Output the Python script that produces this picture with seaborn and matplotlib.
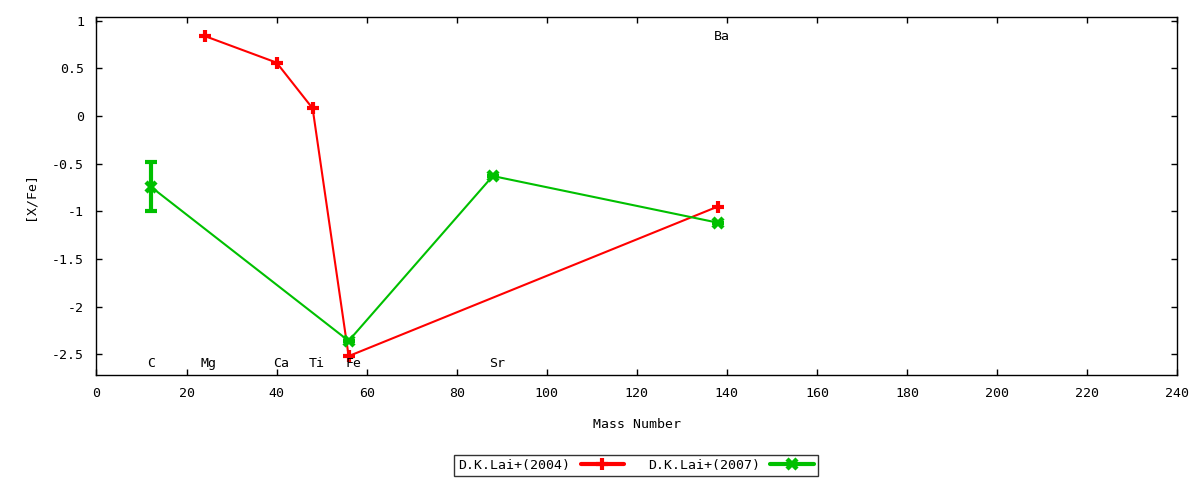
import matplotlib
matplotlib.use("Agg")
import matplotlib.pyplot as plt
import seaborn as sns
import pandas as pd
from matplotlib.lines import Line2D

# D.K.Lai+(2004)
mass_2004 = [24, 40, 48, 56, 138]
xfe_2004 = [0.84, 0.56, 0.08, -2.52, -0.95]

# D.K.Lai+(2007)
mass_2007 = [12, 56, 88, 138]
xfe_2007 = [-0.74, -2.36, -0.63, -1.12]
err_2007 = [0.26, 0.0, 0.0, 0.0]

# element labels
elements = ["C", "Mg", "Ca", "Ti", "Fe", "Sr", "Ba"]
element_mass = [12, 24, 40, 48, 56, 88, 138]
element_y = [-2.6, -2.6, -2.6, -2.6, -2.6, -2.6, 0.83]

xticks = list(range(0, 241, 20))
yticks = [1, 0.5, 0, -0.5, -1, -1.5, -2, -2.5]
ytick_labels = ["1", "0.5", "0", "-0.5", "-1", "-1.5", "-2", "-2.5"]

sns.set_style("ticks")
plt.rcParams["font.family"] = ["DejaVu Sans Mono", "DejaVu Sans"]
plt.rcParams["font.size"] = 9.5
plt.rcParams["axes.unicode_minus"] = False
plt.rcParams["text.color"] = "black"
plt.rcParams["axes.labelcolor"] = "black"

red = "#ff0000"
green = "#00c000"

fig = plt.figure(figsize=(12, 4.8), dpi=100)
ax = fig.add_axes([0.0804, 0.219, 0.981 - 0.0804, 0.964 - 0.219])

df04 = pd.DataFrame({"mass": mass_2004, "xfe": xfe_2004})
df07 = pd.DataFrame({"mass": mass_2007, "xfe": xfe_2007, "err": err_2007})

sns.lineplot(data=df04, x="mass", y="xfe", ax=ax, color=red, lw=1.5,
             marker="+", markersize=8, markeredgewidth=3,
             markeredgecolor=red, sort=False, legend=False)
sns.lineplot(data=df07, x="mass", y="xfe", ax=ax, color=green, lw=1.5,
             marker="x", markersize=7, markeredgewidth=3.2,
             markeredgecolor=green, sort=False, legend=False)
ax.errorbar(df07["mass"], df07["xfe"], yerr=df07["err"], fmt="none",
            ecolor=green, elinewidth=3, capsize=4, capthick=3)

for name, m, yy in zip(elements, element_mass, element_y):
    ax.text(m - 0.8, yy, name, ha="left", va="center", fontsize=9.5,
            color="black")

ax.set_xlim(0, 240)
ax.set_ylim(-2.717, 1.036)
ax.set_xticks(xticks)
ax.set_yticks(yticks)
ax.set_yticklabels(ytick_labels)
ax.tick_params(direction="in", length=4, width=1, top=True, right=True,
               pad=9, colors="black", labelsize=9.5)
for s in ax.spines.values():
    s.set_visible(True)
    s.set_linewidth(1)
    s.set_color("black")

ax.set_xlabel("Mass Number", labelpad=13)
ax.set_ylabel("[X/Fe]", labelpad=11)

handles = [
    Line2D([], [], color=red, lw=3, marker="+", markersize=8,
           markeredgewidth=3, markeredgecolor=red),
    Line2D([], [], color=green, lw=3, marker="x", markersize=7,
           markeredgewidth=3.2, markeredgecolor=green),
]
leg = fig.legend(handles, ["D.K.Lai+(2004)", "D.K.Lai+(2007)"], ncol=2,
                 loc="center", bbox_to_anchor=(0.53, 0.031), markerfirst=False,
                 frameon=True, fancybox=False, edgecolor="black",
                 handlelength=3.3, columnspacing=1.8, borderpad=0.3,
                 handletextpad=0.8, fontsize=9.5)
leg.get_frame().set_linewidth(1)

fig.savefig("out.png", dpi=100)
